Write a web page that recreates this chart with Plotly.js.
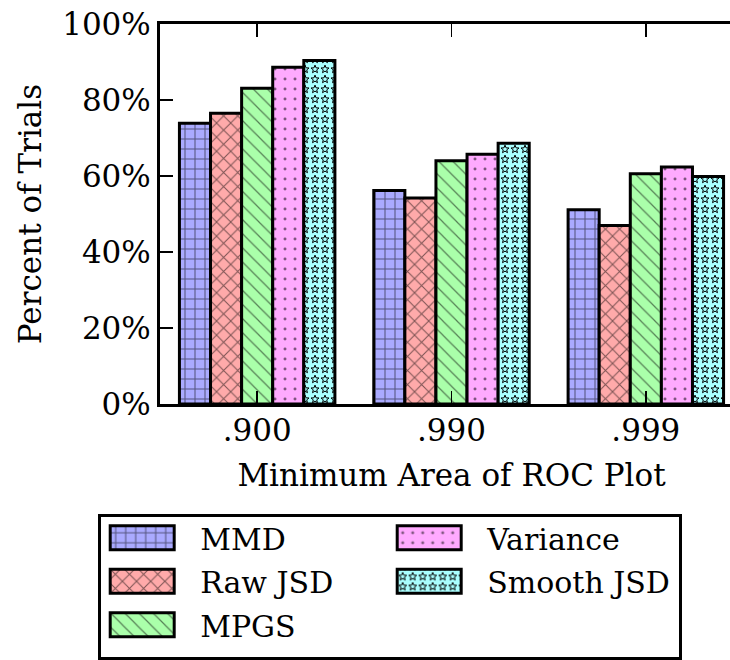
<!DOCTYPE html>
<html>
<head>
<meta charset="utf-8">
<script src="https://cdn.plot.ly/plotly-3.0.1.min.js"></script>
<style>
  html, body { margin: 0; padding: 0; overflow: hidden; background: #ffffff; }
  #chart { width: 745px; height: 660px; }
</style>
</head>
<body>
<div id="chart"></div>
<script>
// Minimum ROC-area thresholds (x categories)
const thresholds = ['.900', '.990', '.999'];

// Percent of trials reaching each threshold, per detector
const mmd       = [73.9, 56.2, 51.1];
const rawJsd    = [76.5, 54.2, 47.0];
const mpgs      = [83.1, 64.0, 60.6];
const variance  = [88.6, 65.7, 62.4];
const smoothJsd = [90.4, 68.6, 59.9];

const seriesNames = ['MMD', 'Raw JSD', 'MPGS', 'Variance', 'Smooth JSD'];
const seriesValues = [mmd, rawJsd, mpgs, variance, smoothJsd];

const yTickVals = [0, 20, 40, 60, 80, 100];
const yTickText = yTickVals.map(v => v + '%');

// Styling per series: fill colour, hatch shape, legend position
const fills = ['#aaaaff', '#ffaaaa', '#aaffaa', '#ffaaff', '#aaffff'];
const hatches = ['+', 'x', '\\', '.', '.'];
const solidities = [0.2, 0.2, 0.12, 0.07, 0.05];
const legendRanks = [1, 3, 5, 2, 4];

const traces = seriesNames.map((name, i) => ({
  type: 'bar',
  name: name,
  x: thresholds,
  y: seriesValues[i],
  legendrank: legendRanks[i],
  marker: {
    color: fills[i],
    line: { color: '#000000', width: 3 },
    pattern: {
      shape: hatches[i],
      fillmode: 'overlay',
      fgcolor: '#000000',
      bgcolor: fills[i],
      size: 10,
      solidity: solidities[i]
    }
  },
  hoverinfo: 'skip'
}));

const axisFont = { family: 'DejaVu Serif', size: 31, color: '#000000' };
const legendFont = { family: 'DejaVu Serif', size: 30, color: '#000000' };

const layout = {
  width: 745,
  height: 660,
  margin: { l: 160, r: 2, t: 24, b: 256 },
  paper_bgcolor: '#ffffff',
  plot_bgcolor: '#ffffff',
  font: axisFont,
  barmode: 'group',
  bargap: 0.2,
  bargroupgap: 0,
  showlegend: true,
  xaxis: {
    type: 'category',
    range: [-0.5, 2.5],
    showline: true,
    linewidth: 3,
    linecolor: '#000000',
    mirror: 'ticks',
    ticks: 'inside',
    ticklen: 13,
    tickwidth: 1.5,
    tickcolor: '#000000',
    ticklabelstandoff: -3,
    showgrid: false,
    zeroline: false,
    tickfont: axisFont,
    title: { text: 'Minimum Area of ROC Plot', font: axisFont, standoff: 18 }
  },
  yaxis: {
    range: [0, 100],
    tickmode: 'array',
    tickvals: yTickVals,
    ticktext: yTickText,
    showline: true,
    linewidth: 3,
    linecolor: '#000000',
    mirror: 'ticks',
    ticks: 'inside',
    ticklen: 13,
    tickwidth: 1.5,
    tickcolor: '#000000',
    showgrid: false,
    zeroline: false,
    tickfont: axisFont,
    title: { text: 'Percent of Trials', font: axisFont, standoff: 12 }
  },
  legend: {
    orientation: 'h',
    x: -0.106,
    y: -0.289,
    xanchor: 'left',
    yanchor: 'top',
    bgcolor: '#ffffff',
    bordercolor: '#000000',
    borderwidth: 3,
    font: legendFont,
    itemwidth: 89,
    entrywidth: 183,
    entrywidthmode: 'pixels',
    traceorder: 'normal'
  }
};

// Outline star used to tile the Smooth JSD bars
function starPath(cx, cy, R, r) {
  let d = '';
  for (let k = 0; k < 10; k++) {
    const rad = k % 2 === 0 ? R : r;
    const a = -Math.PI / 2 + k * Math.PI / 5;
    d += (k === 0 ? 'M' : 'L') + (cx + rad * Math.cos(a)).toFixed(2) + ',' + (cy + rad * Math.sin(a)).toFixed(2);
  }
  return d + 'Z';
}

function isStarFill(el) {
  const raw = (el.getAttribute('fill') || '').replace(/\s/g, '').toLowerCase();
  const st = (el.style && el.style.fill ? el.style.fill : '').replace(/\s/g, '').toLowerCase();
  return raw === '#aaffff' || raw === 'rgb(170,255,255)' || st === 'rgb(170,255,255)';
}

function parseTranslate(t) {
  const m = /translate\(\s*([-\d.]+)[ ,]+([-\d.]+)\s*\)/.exec(t || '');
  return m ? [parseFloat(m[1]), parseFloat(m[2])] : null;
}

Plotly.newPlot('chart', traces, layout, { staticPlot: true, displayModeBar: false }).then(gd => {
  // Wide rectangular legend swatches
  gd.querySelectorAll('.legend .legendpoints path').forEach(p => {
    p.setAttribute('d', 'M-40.5,-12H23.5V12H-40.5Z');
  });

  // Legend rows: sit a little higher in the box, slightly wider row pitch
  const items = Array.from(gd.querySelectorAll('.legend .traces'));
  const rowYs = Array.from(new Set(items.map(g => (parseTranslate(g.getAttribute('transform')) || [0, 0])[1]))).sort((a, b) => a - b);
  items.forEach(g => {
    const tr = parseTranslate(g.getAttribute('transform'));
    if (!tr) return;
    const row = rowYs.indexOf(tr[1]);
    g.setAttribute('transform', 'translate(' + tr[0] + ',' + (tr[1] - 5 + row * 1.5) + ')');
  });
  const bg = gd.querySelector('.legend rect.bg');
  if (bg) {
    bg.setAttribute('height', parseFloat(bg.getAttribute('height')) + 4);
    bg.setAttribute('width', parseFloat(bg.getAttribute('width')) + 4);
  }

  // Legend hatches at full scale, like the bars
  document.querySelectorAll('pattern').forEach(pt => {
    if (pt.getAttribute('patternTransform')) pt.removeAttribute('patternTransform');
  });

  // Star hatch for the Smooth JSD series
  document.querySelectorAll('pattern').forEach(pt => {
    const rect = pt.querySelector('rect');
    if (!rect || !isStarFill(rect)) return;
    pt.setAttribute('width', 10);
    pt.setAttribute('height', 10);
    rect.setAttribute('width', 10);
    rect.setAttribute('height', 10);
    pt.querySelectorAll('circle').forEach(c => c.remove());
    const s = document.createElementNS('http://www.w3.org/2000/svg', 'path');
    s.setAttribute('d', starPath(5, 5.3, 4.2, 1.8));
    s.setAttribute('fill', 'none');
    s.setAttribute('stroke', '#000000');
    s.setAttribute('stroke-width', '1');
    pt.appendChild(s);
  });
});
</script>
</body>
</html>
